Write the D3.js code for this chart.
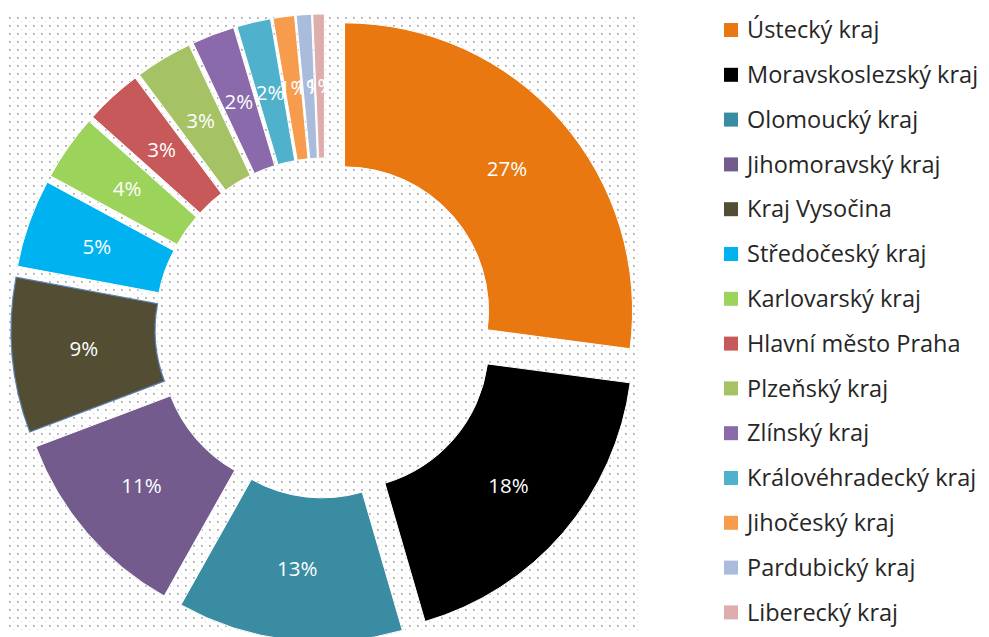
<!DOCTYPE html>
<meta charset="utf-8">
<script src="https://cdn.jsdelivr.net/npm/d3@7"></script>
<style>
body { margin: 0; background: #fff; }
text { font-family: "Open Sans", Lato, sans-serif; }
.slice-label { fill: #fff; font-size: 20.5px; }
.legend text { fill: #262626; font-size: 23.5px; }
</style>
<body>
<script>

// regions and their share (in %)
var regions = ["Ústecký kraj", "Moravskoslezský kraj", "Olomoucký kraj", "Jihomoravský kraj",
  "Kraj Vysočina", "Středočeský kraj", "Karlovarský kraj", "Hlavní město Praha",
  "Plzeňský kraj", "Zlínský kraj", "Královéhradecký kraj", "Jihočeský kraj",
  "Pardubický kraj", "Liberecký kraj"];
var shares = [27.1, 18.4, 12.65, 11.1, 8.7, 4.95, 3.7, 3.2, 3.2, 2.4, 1.9, 1.2, 0.85, 0.65];
var colors = ["#e8780f", "#000000", "#3a8ca2", "#735b8d", "#534e33", "#00b3f0", "#9cd35b",
  "#c8595a", "#a5c264", "#8a6aab", "#4fb1cb", "#f79c4c", "#aabcdc", "#deaeae"];

var width = 989, height = 637;
var cx = 325, cy = 328,
    outerR = 288, innerR = 144,
    explode = 26;

var svg = d3.select("body").append("svg")
    .attr("width", width)
    .attr("height", height);

// dotted plot-area fill
var pat = svg.append("defs").append("pattern")
    .attr("id", "dots")
    .attr("patternUnits", "userSpaceOnUse")
    .attr("width", 8).attr("height", 8);
pat.append("rect").attr("x", 1).attr("y", 1).attr("width", 1.8).attr("height", 1.8).attr("fill", "#b0b0b0");
pat.append("rect").attr("x", 5).attr("y", 5).attr("width", 1.2).attr("height", 1.2).attr("fill", "#d4d4d4");

svg.append("rect")
    .attr("x", 8).attr("y", 15)
    .attr("width", 630).attr("height", 618)
    .attr("fill", "url(#dots)");

var data = regions.map(function(r, i) { return {name: r, value: shares[i], color: colors[i]}; });
var total = d3.sum(shares);

var pie = d3.pie().sort(null).value(function(d) { return d.value; });
var arc = d3.arc().innerRadius(innerR).outerRadius(outerR);
var pct = d3.format(".0%");

var slices = svg.append("g")
    .attr("transform", "translate(" + cx + "," + cy + ")")
  .selectAll("g")
  .data(pie(data))
  .enter().append("g")
    .attr("transform", function(d) {
      var a = (d.startAngle + d.endAngle) / 2;
      return "translate(" + (Math.sin(a) * explode) + "," + (-Math.cos(a) * explode) + ")";
    });

slices.append("path")
    .attr("d", arc)
    .attr("fill", function(d) { return d.data.color; })
    .attr("stroke", function(d) { return d.data.name == "Kraj Vysočina" ? "#5b83b8" : "#fff"; })
    .attr("stroke-width", function(d) { return d.data.name == "Kraj Vysočina" ? 1.2 : 1; });

slices.append("text")
    .attr("class", "slice-label")
    .attr("transform", function(d) { return "translate(" + arc.centroid(d) + ")"; })
    .attr("text-anchor", "middle")
    .attr("dy", "0.35em")
    .text(function(d) { return pct(d.data.value / total); });

// legend
var legend = svg.append("g")
    .attr("class", "legend")
    .attr("transform", "translate(724,30)")
  .selectAll("g")
  .data(data)
  .enter().append("g")
    .attr("transform", function(d, i) { return "translate(0," + (i * 44.8) + ")"; });

legend.append("rect")
    .attr("x", 0).attr("y", -7)
    .attr("width", 14).attr("height", 14)
    .attr("fill", function(d) { return d.color; });

legend.append("text")
    .attr("x", 23)
    .attr("dy", "0.35em")
    .text(function(d) { return d.name; });

</script>
</body>
